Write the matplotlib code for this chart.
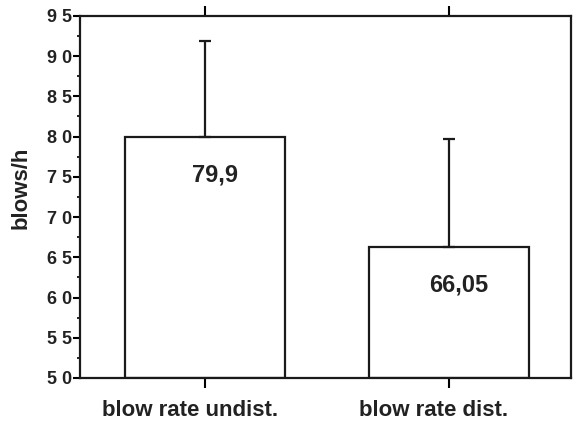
import matplotlib
matplotlib.use("Agg")
import matplotlib.pyplot as plt
from matplotlib.ticker import MultipleLocator

plt.rcParams['font.family'] = ['Liberation Sans', 'DejaVu Sans']

categories = ["blow rate undist.", "blow rate dist."]
means = [80.0, 66.3]
upper_err = [11.9, 13.4]
value_labels = ["79,9", "66,05"]
y_ticks = [50, 55, 60, 65, 70, 75, 80, 85, 90, 95]
y_tick_labels = ["5 0", "5 5", "6 0", "6 5", "7 0", "7 5", "8 0", "8 5", "9 0", "9 5"]

fig = plt.figure(figsize=(5.73, 4.30), dpi=100)
ax = fig.add_axes([0.1396, 0.121, 0.857, 0.842])

x = range(len(categories))
base = 50
ax.bar(x, [m - base for m in means], bottom=base, width=0.656,
       color="white", edgecolor="#1a1a1a", linewidth=1.6, zorder=2)
ax.errorbar(x, means, yerr=[[0, 0], upper_err], fmt="none",
            ecolor="#1a1a1a", elinewidth=1.6, capsize=4, capthick=1.6, zorder=3)

for i, lab in enumerate(value_labels):
    ax.text(i + 0.04, means[i] - 4.8, lab, ha="center", va="center",
            fontsize=17, fontweight="bold", color="#222222", zorder=4)

ax.set_xlim(-0.512, 1.5)
ax.set_ylim(50, 95)
ax.set_yticks(y_ticks)
ax.set_yticklabels(y_tick_labels, fontsize=13, fontweight="bold", color="#222222")
ax.yaxis.set_minor_locator(MultipleLocator(2.5))
ax.set_xticks(list(x))
ax.set_xticklabels([])
ax.set_ylabel("blows/h", fontsize=16, fontweight="bold", color="#222222")
ax.yaxis.set_label_coords(-0.098, 0.525)

# category names sit a little left of their ticks in the scan
for i, cat in enumerate(categories):
    ax.annotate(cat, xy=(i, 0), xycoords=ax.get_xaxis_transform(),
                xytext=(-11, -16), textcoords="offset points",
                ha="center", va="top", fontsize=16, fontweight="bold",
                color="#222222", annotation_clip=False)

ax.tick_params(axis="y", which="major", direction="out", length=5, width=1.5, pad=1)
ax.tick_params(axis="y", which="minor", direction="out", length=2.5, width=1.2)
ax.tick_params(axis="x", which="major", direction="out", length=7.5, width=1.5,
               top=True)

for side in ["left", "right", "top", "bottom"]:
    ax.spines[side].set_linewidth(1.6)
    ax.spines[side].set_color("#1a1a1a")

fig.savefig("out.png", dpi=100)
